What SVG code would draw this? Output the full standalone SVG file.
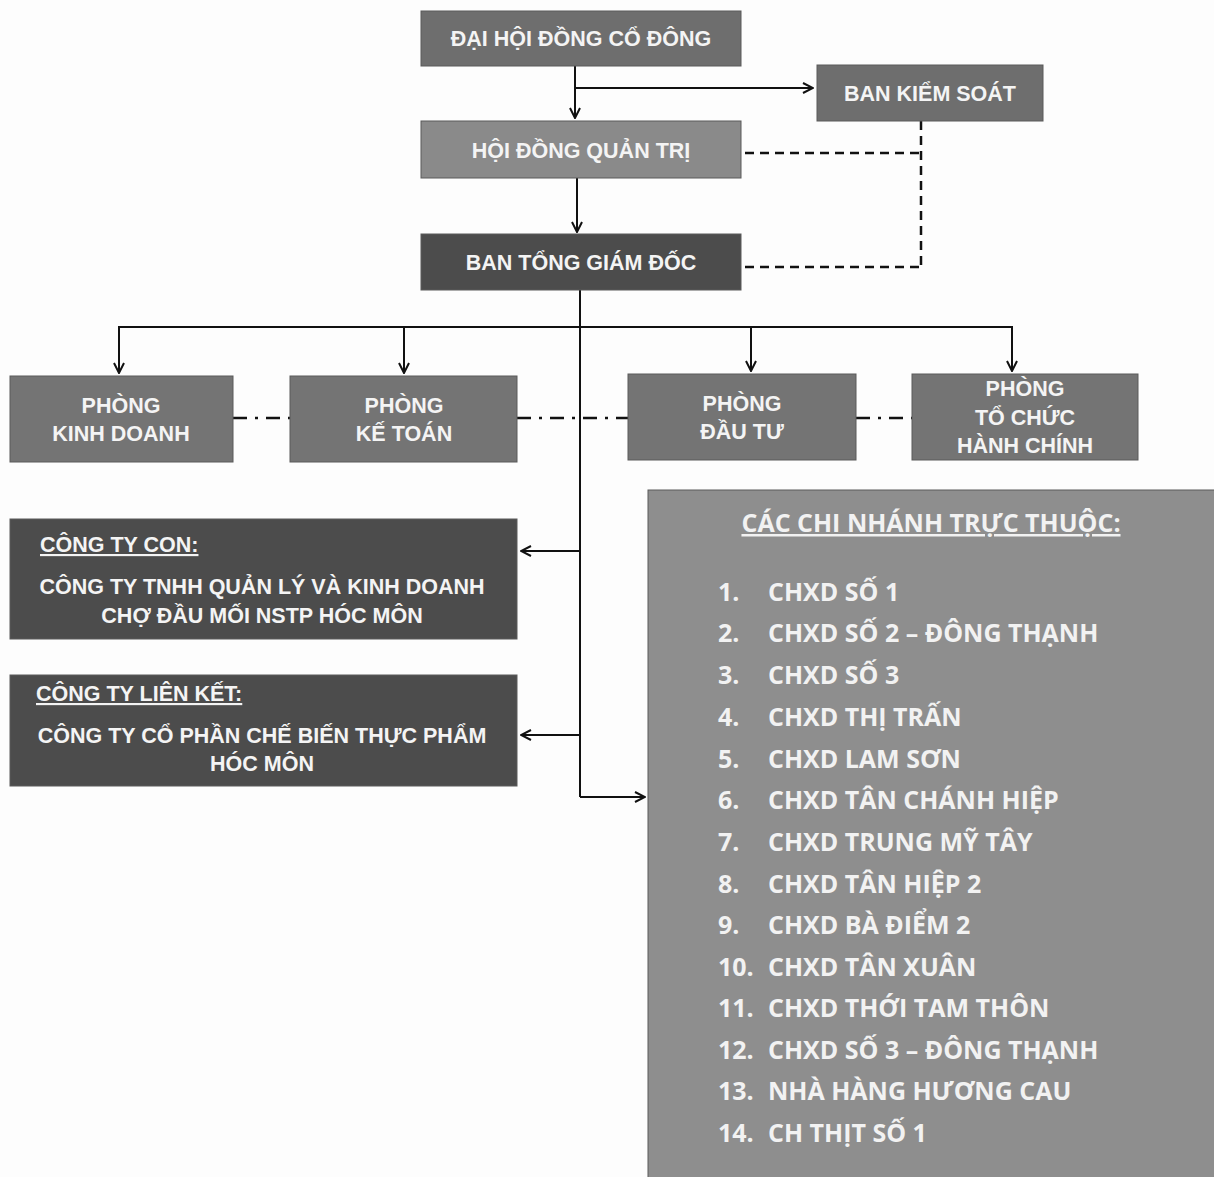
<svg xmlns="http://www.w3.org/2000/svg" width="1214" height="1177" viewBox="0 0 1214 1177">
<defs>
<marker id="arr" viewBox="0 0 12 12" refX="11" refY="6" markerWidth="12" markerHeight="12" markerUnits="userSpaceOnUse" orient="auto">
<path d="M1,1 L11,6 L1,11" fill="none" stroke="#111" stroke-width="2"/>
</marker>
</defs>
<style>
.box{stroke:#5a5a5a;stroke-width:1}
.mid{fill:#6e6e6e}
.light{fill:#8a8a8a}
.dark{fill:#4c4c4c}
.dept{fill:#747474}
.branch{fill:#8e8e8e}
.t{font-family:"Liberation Sans",Arial,sans-serif;font-weight:bold;fill:#f4f4f4;text-anchor:middle;font-size:21.5px}
.list{font-family:"Open Sans","Noto Sans",sans-serif;font-weight:bold;fill:#f2f2f2;font-size:25px}
.ln{fill:none;stroke:#111;stroke-width:2}
.dash{fill:none;stroke:#111;stroke-width:2.5;stroke-dasharray:9,6}
.dd{fill:none;stroke:#111;stroke-width:2.5;stroke-dasharray:14,8,3,8}
</style>
<rect width="1214" height="1177" fill="#fdfdfd"/>
<g id="connectors">
<path class="ln" d="M575,66 V118" marker-end="url(#arr)"/>
<path class="ln" d="M576,88 H813" marker-end="url(#arr)"/>
<path class="ln" d="M577,178 V232" marker-end="url(#arr)"/>
<path class="dash" d="M745,153 H921 M921,121 V267 M745,267 H921"/>
<path class="ln" d="M580,290 V797"/>
<path class="ln" d="M580,797 H645" marker-end="url(#arr)"/>
<path class="ln" d="M119,327 H1012"/>
<path class="ln" d="M119,326 V373" marker-end="url(#arr)"/>
<path class="ln" d="M404,326 V373" marker-end="url(#arr)"/>
<path class="ln" d="M751,326 V371" marker-end="url(#arr)"/>
<path class="ln" d="M1012,326 V371" marker-end="url(#arr)"/>
<path class="dd" d="M233,418 H290 M517,418 H628 M856,418 H912"/>
<path class="ln" d="M580,551 H521" marker-end="url(#arr)"/>
<path class="ln" d="M580,735 H521" marker-end="url(#arr)"/>
</g>
<g id="dai-hoi">
<rect class="box mid" x="421" y="11" width="320" height="55"/>
<text class="t" x="581" y="46">ĐẠI HỘI ĐỒNG CỔ ĐÔNG</text>
</g>
<g id="ban-kiem-soat">
<rect class="box mid" x="817" y="65" width="226" height="56"/>
<text class="t" x="930" y="101">BAN KIỂM SOÁT</text>
</g>
<g id="hoi-dong-quan-tri">
<rect class="box light" x="421" y="121" width="320" height="57"/>
<text class="t" x="581" y="158">HỘI ĐỒNG QUẢN TRỊ</text>
</g>
<g id="ban-tong-giam-doc">
<rect class="box dark" x="421" y="234" width="320" height="56"/>
<text class="t" x="581" y="270">BAN TỔNG GIÁM ĐỐC</text>
</g>
<g id="phong-kinh-doanh">
<rect class="box dept" x="10" y="376" width="223" height="86"/>
<text class="t" x="121" y="413">PHÒNG</text>
<text class="t" x="121" y="441">KINH DOANH</text>
</g>
<g id="phong-ke-toan">
<rect class="box dept" x="290" y="376" width="227" height="86"/>
<text class="t" x="404" y="413">PHÒNG</text>
<text class="t" x="404" y="441">KẾ TOÁN</text>
</g>
<g id="phong-dau-tu">
<rect class="box dept" x="628" y="374" width="228" height="86"/>
<text class="t" x="742" y="411">PHÒNG</text>
<text class="t" x="742" y="439">ĐẦU TƯ</text>
</g>
<g id="phong-tchc">
<rect class="box dept" x="912" y="374" width="226" height="86"/>
<text class="t" x="1025" y="396">PHÒNG</text>
<text class="t" x="1025" y="425">TỔ CHỨC</text>
<text class="t" x="1025" y="453">HÀNH CHÍNH</text>
</g>
<g id="cong-ty-con">
<rect class="box dark" x="10" y="519" width="507" height="120"/>
<text class="t" x="40" y="552" style="text-anchor:start;text-decoration:underline">CÔNG TY CON:</text>
<text class="t" x="262" y="594">CÔNG TY TNHH QUẢN LÝ VÀ KINH DOANH</text>
<text class="t" x="262" y="623">CHỢ ĐẦU MỐI NSTP HÓC MÔN</text>
</g>
<g id="cong-ty-lien-ket">
<rect class="box dark" x="10" y="675" width="507" height="111"/>
<text class="t" x="36" y="701" style="text-anchor:start;text-decoration:underline">CÔNG TY LIÊN KẾT:</text>
<text class="t" x="262" y="743">CÔNG TY CỔ PHẦN CHẾ BIẾN THỰC PHẨM</text>
<text class="t" x="262" y="771">HÓC MÔN</text>
</g>
<g id="chi-nhanh">
<rect class="box branch" x="648" y="490" width="570" height="692"/>
<text class="list" x="931" y="532" style="text-anchor:middle;text-decoration:underline">CÁC CHI NHÁNH TRỰC THUỘC:</text>
<g class="list">
<text x="718" y="601">1.</text><text x="768" y="601">CHXD SỐ 1</text>
<text x="718" y="642">2.</text><text x="768" y="642">CHXD SỐ 2 – ĐÔNG THẠNH</text>
<text x="718" y="684">3.</text><text x="768" y="684">CHXD SỐ 3</text>
<text x="718" y="726">4.</text><text x="768" y="726">CHXD THỊ TRẤN</text>
<text x="718" y="768">5.</text><text x="768" y="768">CHXD LAM SƠN</text>
<text x="718" y="809">6.</text><text x="768" y="809">CHXD TÂN CHÁNH HIỆP</text>
<text x="718" y="851">7.</text><text x="768" y="851">CHXD TRUNG MỸ TÂY</text>
<text x="718" y="893">8.</text><text x="768" y="893">CHXD TÂN HIỆP 2</text>
<text x="718" y="934">9.</text><text x="768" y="934">CHXD BÀ ĐIỂM 2</text>
<text x="718" y="976">10.</text><text x="768" y="976">CHXD TÂN XUÂN</text>
<text x="718" y="1017">11.</text><text x="768" y="1017">CHXD THỚI TAM THÔN</text>
<text x="718" y="1059">12.</text><text x="768" y="1059">CHXD SỐ 3 – ĐÔNG THẠNH</text>
<text x="718" y="1100">13.</text><text x="768" y="1100">NHÀ HÀNG HƯƠNG CAU</text>
<text x="718" y="1142">14.</text><text x="768" y="1142">CH THỊT SỐ 1</text>
</g>
</g>
</svg>
